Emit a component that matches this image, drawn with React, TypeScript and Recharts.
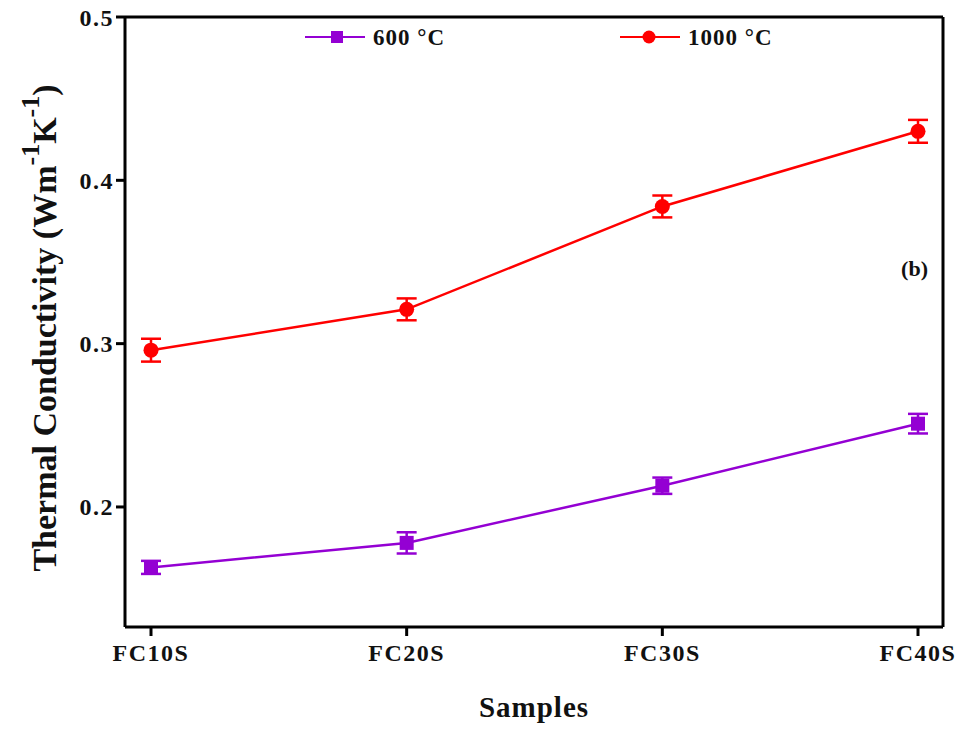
import { LineChart, Line, XAxis, YAxis, ErrorBar, Label } from "recharts";

const samples = ["FC10S", "FC20S", "FC30S", "FC40S"];
const k600 = [0.163, 0.178, 0.213, 0.251];
const err600 = [0.004, 0.0065, 0.005, 0.006];
const k1000 = [0.296, 0.321, 0.384, 0.430];
const err1000 = [0.007, 0.0067, 0.0067, 0.007];
const yTicks = [0.2, 0.3, 0.4, 0.5];
const yDomain = [0.1265, 0.5];

const PURPLE = "#9400D3";
const RED = "#FF0000";
const FONT = "'Liberation Serif', 'Times New Roman', serif";

const data = samples.map((s, i) => ({
  sample: s,
  k600: k600[i],
  err600: err600[i],
  k1000: k1000[i],
  err1000: err1000[i],
}));

const SquareDot = (props: any) => {
  const { cx, cy, index } = props;
  if (cx == null || cy == null) return null;
  return <rect key={`sq-${index}`} x={cx - 7} y={cy - 7} width={14} height={14} fill={PURPLE} />;
};

const CircleDot = (props: any) => {
  const { cx, cy, index } = props;
  if (cx == null || cy == null) return null;
  return <circle key={`ci-${index}`} cx={cx} cy={cy} r={7.5} fill={RED} />;
};

// legend drawn inside the plot, top
const LegendMarks = () => (
  <g fontFamily={FONT} fontWeight="bold" fontSize={23} fill="#111">
    <line x1={305} y1={37} x2={365} y2={37} stroke={PURPLE} strokeWidth={2} />
    <rect x={331} y={31} width={12} height={12} fill={PURPLE} />
    <text x={373} y={37} dominantBaseline="central" letterSpacing={1}>600 °C</text>
    <line x1={620} y1={37} x2={680} y2={37} stroke={RED} strokeWidth={2} />
    <circle cx={649} cy={37} r={6.5} fill={RED} />
    <text x={688} y={37} dominantBaseline="central" letterSpacing={1}>1000 °C</text>
  </g>
);

const YTitle = () => (
  <text
    transform="rotate(-90, 44, 328)"
    x={44}
    y={328}
    textAnchor="middle"
    dominantBaseline="central"
    fontFamily={FONT}
    fontWeight="bold"
    fontSize={34}
    fill="#111"
  >
    Thermal Conductivity (Wm
    <tspan dy={-14} fontSize={26}>-1</tspan>
    <tspan dy={14}>K</tspan>
    <tspan dy={-14} fontSize={26}>-1</tspan>
    <tspan dy={14}>)</tspan>
  </text>
);

const tickStyle = { fontFamily: FONT, fontWeight: "bold", fontSize: 24, fill: "#111", letterSpacing: 1.5 };

export default function App() {
  return (
    <div style={{ position: "absolute", left: 0, top: 0, width: 964, height: 729, background: "#fff" }}>
      <LineChart
        width={964}
        height={729}
        data={data}
        margin={{ top: 16, right: 20, bottom: 0, left: 0 }}
      >
        <XAxis
          xAxisId="bottom"
          dataKey="sample"
          height={102}
          padding={{ left: 26, right: 25 }}
          stroke="#000"
          strokeWidth={3}
          tickSize={9}
          tickLine={{ stroke: "#000", strokeWidth: 3 }}
          tick={{ ...tickStyle, dy: 6 }}
        >
          <Label
            value="Samples"
            position="insideBottom"
            offset={12}
            style={{ fontFamily: FONT, fontWeight: "bold", fontSize: 29, fill: "#111", letterSpacing: 1 }}
          />
        </XAxis>
        <XAxis
          xAxisId="top"
          orientation="top"
          dataKey="sample"
          height={1}
          padding={{ left: 26, right: 25 }}
          stroke="#000"
          strokeWidth={3}
          tick={false}
          tickLine={false}
        />
        <YAxis
          yAxisId="left"
          width={125}
          domain={yDomain}
          ticks={yTicks}
          type="number"
          allowDataOverflow
          stroke="#000"
          strokeWidth={3}
          tickSize={9}
          tickLine={{ stroke: "#000", strokeWidth: 3 }}
          tickFormatter={(v: number) => v.toFixed(1)}
          tick={tickStyle}
          label={<YTitle />}
        />
        <YAxis
          yAxisId="right"
          orientation="right"
          width={1}
          domain={yDomain}
          type="number"
          allowDataOverflow
          stroke="#000"
          strokeWidth={3}
          tick={false}
          tickLine={false}
        />
        <Line
          xAxisId="bottom"
          yAxisId="left"
          type="linear"
          dataKey="k600"
          stroke={PURPLE}
          strokeWidth={2.5}
          dot={SquareDot}
          activeDot={false}
          isAnimationActive={false}
        >
          <ErrorBar dataKey="err600" width={10} stroke={PURPLE} strokeWidth={2.5} direction="y" isAnimationActive={false} />
        </Line>
        <Line
          xAxisId="top"
          yAxisId="right"
          type="linear"
          dataKey="k1000"
          stroke={RED}
          strokeWidth={2.5}
          dot={CircleDot}
          activeDot={false}
          isAnimationActive={false}
        >
          <ErrorBar dataKey="err1000" width={10} stroke={RED} strokeWidth={2.5} direction="y" isAnimationActive={false} />
        </Line>
        <LegendMarks />
        <text x={928} y={268} textAnchor="end" dominantBaseline="central" fontFamily={FONT} fontWeight="bold" fontSize={22} fill="#111">
          (b)
        </text>
      </LineChart>
    </div>
  );
}
